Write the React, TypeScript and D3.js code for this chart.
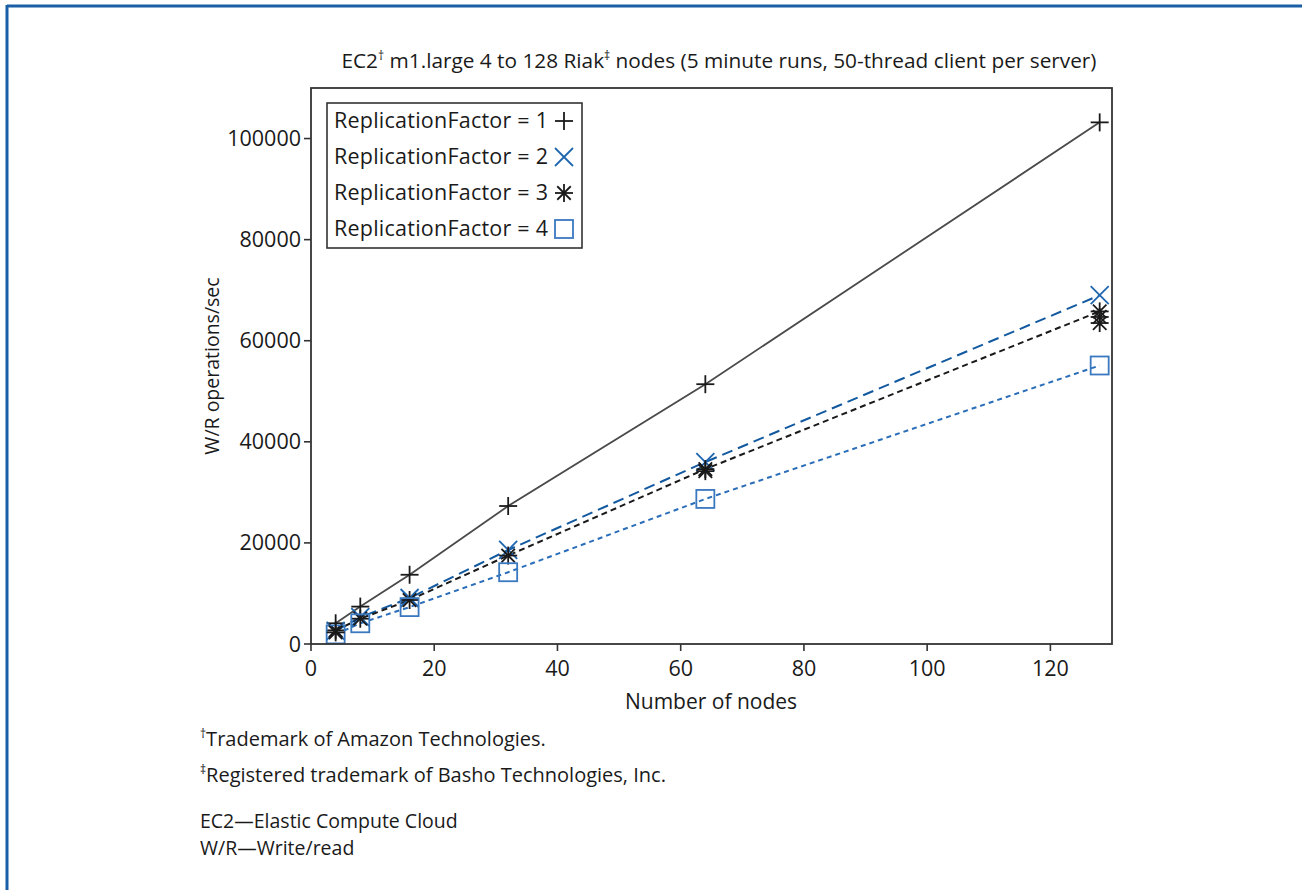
import React from "react";
import * as d3 from "d3";

const nodes = [4, 8, 16, 32, 64, 128];
const rf1 = [4100, 7400, 13700, 27300, 51400, 103200];
const rf2 = [2600, 5300, 9100, 18600, 36000, 69000];
const rf3 = [2700, 5000, 8700, 17500, 34600, 65800];
const rf3Extra = [{ x: 128, y: 64700 }, { x: 128, y: 63500 }, { x: 64, y: 34200 }, { x: 4, y: 2300 }];
const rf4 = [1900, 4100, 7300, 14200, 28700, 55100];
const xTicks = [0, 20, 40, 60, 80, 100, 120];
const yTicks = [0, 20000, 40000, 60000, 80000, 100000];
const legendLabels = ["ReplicationFactor = 1", "ReplicationFactor = 2", "ReplicationFactor = 3", "ReplicationFactor = 4"];

const FONT = "'Open Sans', 'Noto Sans', sans-serif";

type Series = { values: number[]; color: string; dash: string; marker: string; mcolor: string; width: number };
const series: Series[] = [
  { values: rf1, color: "#4a4a4a", dash: "", marker: "plus", mcolor: "#1a1a1a", width: 1.8 },
  { values: rf2, color: "#1259a0", dash: "11,6", marker: "cross", mcolor: "#1f66b0", width: 2 },
  { values: rf3, color: "#1a1a1a", dash: "6,4", marker: "star", mcolor: "#1a1a1a", width: 2 },
  { values: rf4, color: "#2a6db8", dash: "5,4", marker: "square", mcolor: "#3a78c0", width: 2 },
];

function Marker({ type, x, y, color }: { type: string; x: number; y: number; color: string }) {
  const s = 9;
  const sw = 1.8;
  if (type === "plus")
    return (
      <g stroke={color} strokeWidth={sw}>
        <line x1={x - s} y1={y} x2={x + s} y2={y} />
        <line x1={x} y1={y - s} x2={x} y2={y + s} />
      </g>
    );
  if (type === "cross")
    return (
      <g stroke={color} strokeWidth={sw}>
        <line x1={x - s} y1={y - s} x2={x + s} y2={y + s} />
        <line x1={x - s} y1={y + s} x2={x + s} y2={y - s} />
      </g>
    );
  if (type === "star")
    return (
      <g stroke={color} strokeWidth={sw}>
        <line x1={x - s} y1={y} x2={x + s} y2={y} />
        <line x1={x} y1={y - s} x2={x} y2={y + s} />
        <line x1={x - s * 0.75} y1={y - s * 0.75} x2={x + s * 0.75} y2={y + s * 0.75} />
        <line x1={x - s * 0.75} y1={y + s * 0.75} x2={x + s * 0.75} y2={y - s * 0.75} />
      </g>
    );
  return <rect x={x - s} y={y - s} width={2 * s} height={2 * s} fill="none" stroke={color} strokeWidth={sw} />;
}

export default function App() {
  const W = 1302, H = 890;
  const m = { left: 311, top: 88, right: 1112, bottom: 644 };
  const x = d3.scaleLinear().domain([0, 130]).range([m.left, m.right]);
  const y = d3.scaleLinear().domain([0, 110000]).range([m.bottom, m.top]);
  const line = d3.line<number>().x((_, i) => x(nodes[i])).y((d) => y(d));
  const tfs = 21.5;
  const fs = 21;
  return (
    <svg width={W} height={H} style={{ position: "absolute", left: 0, top: 0, background: "#fff" }} fontFamily={FONT}>
      <rect x={0} y={0} width={W} height={H} fill="#fff" />
      {/* blue frame */}
      <line x1={7} y1={6} x2={W} y2={6} stroke="#1a5ea6" strokeWidth={3} />
      <line x1={7} y1={5} x2={7} y2={H} stroke="#1a5ea6" strokeWidth={3} />
      {/* title */}
      <text x={719} y={68} textAnchor="middle" fontSize={20.8} fill="#1a1a1a">
        EC2<tspan dy={-8} fontSize={12}>†</tspan><tspan dy={8}> m1.large 4 to 128 Riak</tspan>
        <tspan dy={-8} fontSize={12}>‡</tspan><tspan dy={8}> nodes (5 minute runs, 50-thread client per server)</tspan>
      </text>
      {/* series lines */}
      {series.map((s, i) => (
        <path key={i} d={line(s.values) || ""} fill="none" stroke={s.color} strokeWidth={s.width} strokeDasharray={s.dash} />
      ))}
      {/* markers */}
      {series.map((s, i) =>
        s.values.map((v, j) => <Marker key={`${i}-${j}`} type={s.marker} x={x(nodes[j])} y={y(v)} color={s.mcolor} />)
      )}
      {rf3Extra.map((p, k) => (
        <Marker key={`e${k}`} type="star" x={x(p.x)} y={y(p.y)} color="#1a1a1a" />
      ))}
      {/* frame */}
      <rect x={m.left} y={m.top} width={m.right - m.left} height={m.bottom - m.top} fill="none" stroke="#333" strokeWidth={1.8} />
      {/* x ticks */}
      {xTicks.map((t) => (
        <g key={t}>
          <line x1={x(t)} x2={x(t)} y1={m.bottom} y2={m.bottom + 7} stroke="#333" strokeWidth={1.6} />
          <text x={x(t)} y={m.bottom + 32} textAnchor="middle" fontSize={tfs} fill="#1a1a1a">{t}</text>
        </g>
      ))}
      {yTicks.map((t) => (
        <g key={t}>
          <line x1={m.left - 7} x2={m.left} y1={y(t)} y2={y(t)} stroke="#333" strokeWidth={1.6} />
          <text x={m.left - 10} y={y(t) + 7.5} textAnchor="end" fontSize={tfs} fill="#1a1a1a">{t}</text>
        </g>
      ))}
      <text x={711} y={709} textAnchor="middle" fontSize={fs} fill="#1a1a1a">Number of nodes</text>
      <text transform={`translate(219,366) rotate(-90)`} textAnchor="middle" fontSize={19.5} fill="#1a1a1a">W/R operations/sec</text>
      {/* legend */}
      <rect x={327} y={103} width={255} height={145} fill="#fff" stroke="#333" strokeWidth={1.6} />
      {legendLabels.map((l, i) => (
        <g key={l}>
          <text x={334} y={128 + i * 36} fontSize={21.5} fill="#1a1a1a" textLength={214} lengthAdjust="spacing">{l}</text>
          <Marker type={series[i].marker} x={564} y={121 + i * 36} color={series[i].mcolor} />
        </g>
      ))}
      {/* footnotes */}
      <text x={200} y={746} fontSize={20} fill="#1a1a1a">
        <tspan dy={-8} fontSize={12}>†</tspan><tspan dy={8}>Trademark of Amazon Technologies.</tspan>
      </text>
      <text x={200} y={782} fontSize={20} fill="#1a1a1a">
        <tspan dy={-8} fontSize={12}>‡</tspan><tspan dy={8}>Registered trademark of Basho Technologies, Inc.</tspan>
      </text>
      <text x={200} y={828} fontSize={19.5} fill="#1a1a1a">EC2—Elastic Compute Cloud</text>
      <text x={200} y={855} fontSize={19.5} fill="#1a1a1a">W/R—Write/read</text>
    </svg>
  );
}
